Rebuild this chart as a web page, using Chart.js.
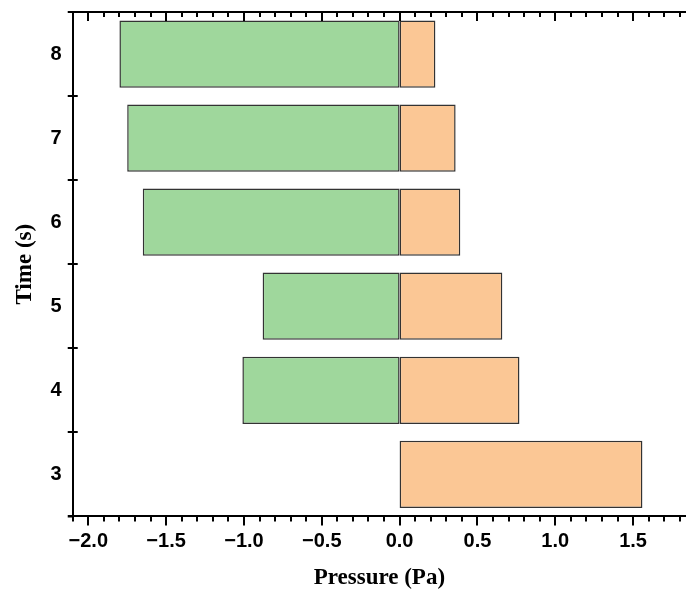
<!DOCTYPE html>
<html lang="en">
<head>
  <meta charset="UTF-8" />
  <title>Pressure vs Time</title>
  <script src="https://cdn.jsdelivr.net/npm/chart.js"></script>
  <style>
    body { margin: 0; background: #ffffff; }
    #wrap { width: 686px; height: 592px; }
  </style>
</head>
<body>
  <div id="wrap"><canvas id="pressureChart"></canvas></div>

  <script>
    // time steps (s), bottom to top
    const times = [3, 4, 5, 6, 7, 8];
    // negative (suction) and positive pressure per time step, Pa
    const negPressure = [null, -1.01, -0.88, -1.65, -1.75, -1.80];
    const posPressure = [1.56, 0.77, 0.66, 0.39, 0.36, 0.23];
    const xTickValues = [-2.0, -1.5, -1.0, -0.5, 0.0, 0.5, 1.0, 1.5];
    const xMin = -2.1, xMax = 1.84;

    const fmt = v => v.toFixed(1).replace('-', '\u2212');

    // frame ticks: minor every 0.1 on the pressure axis, category edges on the time axis
    const frameTicks = {
      id: 'frameTicks',
      afterDraw(chart) {
        const { ctx, chartArea: a, scales: { x, y } } = chart;
        ctx.save();
        ctx.strokeStyle = '#000';
        ctx.lineWidth = 2;
        ctx.beginPath();
        // top border
        ctx.moveTo(a.left - 5, a.top);
        ctx.lineTo(a.right, a.top);
        // x ticks: outward on bottom, inward on top
        for (let i = Math.ceil(xMin * 10); i <= Math.floor(xMax * 10); i++) {
          const px = Math.round(x.getPixelForValue(i / 10));
          const len = i % 5 === 0 ? 9 : 5;
          ctx.moveTo(px, a.bottom);
          ctx.lineTo(px, a.bottom + len);
          ctx.moveTo(px, a.top);
          ctx.lineTo(px, a.top + len);
        }
        // y ticks at category boundaries, crossing the axis
        const n = times.length;
        const edges = [a.top, a.bottom];
        for (let i = 0; i < n - 1; i++) {
          edges.push((y.getPixelForValue(i) + y.getPixelForValue(i + 1)) / 2);
        }
        edges.forEach(py => {
          py = Math.round(py);
          ctx.moveTo(a.left - 5, py);
          ctx.lineTo(a.left + 5, py);
        });
        // bottom axis continues a little left of the corner
        ctx.moveTo(a.left - 5, a.bottom);
        ctx.lineTo(a.left, a.bottom);
        ctx.stroke();
        ctx.restore();
      }
    };

    // drop the label overhang padding so layout.padding sets the plot edges
    const noOverhang = s => {
      s.paddingTop = 0; s.paddingBottom = 0;
      s.paddingLeft = 0; s.paddingRight = 0;
    };

    new Chart(document.getElementById('pressureChart').getContext('2d'), {
      type: 'bar',
      data: {
        labels: times.map(String),
        datasets: [
          {
            label: 'Negative',
            data: negPressure,
            backgroundColor: '#9fd79c',
            borderColor: '#333333',
            borderWidth: 1.5,
            borderSkipped: false
          },
          {
            label: 'Positive',
            data: posPressure,
            backgroundColor: '#fbc795',
            borderColor: '#333333',
            borderWidth: 1.5,
            borderSkipped: false
          }
        ]
      },
      options: {
        indexAxis: 'y',
        responsive: true,
        maintainAspectRatio: false,
        animation: false,
        categoryPercentage: 0.8,
        barPercentage: 1.0,
        layout: { padding: { top: 12, right: 0, left: 11, bottom: 0 } },
        plugins: {
          legend: { display: false },
          tooltip: { enabled: false }
        },
        scales: {
          x: {
            type: 'linear',
            stacked: true,
            min: xMin,
            max: xMax,
            afterBuildTicks: s => { s.ticks = xTickValues.map(v => ({ value: v })); },
            afterFit: noOverhang,
            grid: { display: false, drawTicks: false },
            border: { display: true, color: '#000', width: 2 },
            ticks: {
              color: '#000',
              padding: 13,
              maxRotation: 0,
              autoSkip: false,
              font: { family: 'Liberation Sans', size: 20, weight: 'bold' },
              callback: v => fmt(v)
            },
            title: {
              display: true,
              text: 'Pressure (Pa)',
              color: '#000',
              padding: { top: -2, bottom: 0 },
              font: { family: 'Liberation Serif', size: 23, weight: 'bold' }
            }
          },
          y: {
            type: 'category',
            stacked: true,
            reverse: true,
            afterFit: noOverhang,
            grid: { display: false, drawTicks: false },
            border: { display: true, color: '#000', width: 2 },
            ticks: {
              color: '#000',
              padding: 11,
              font: { family: 'Liberation Sans', size: 20, weight: 'bold' }
            },
            title: {
              display: true,
              text: 'Time (s)',
              color: '#000',
              padding: { top: 0, bottom: 1 },
              font: { family: 'Liberation Serif', size: 23, weight: 'bold' }
            }
          }
        }
      },
      plugins: [frameTicks]
    });
  </script>
</body>
</html>
